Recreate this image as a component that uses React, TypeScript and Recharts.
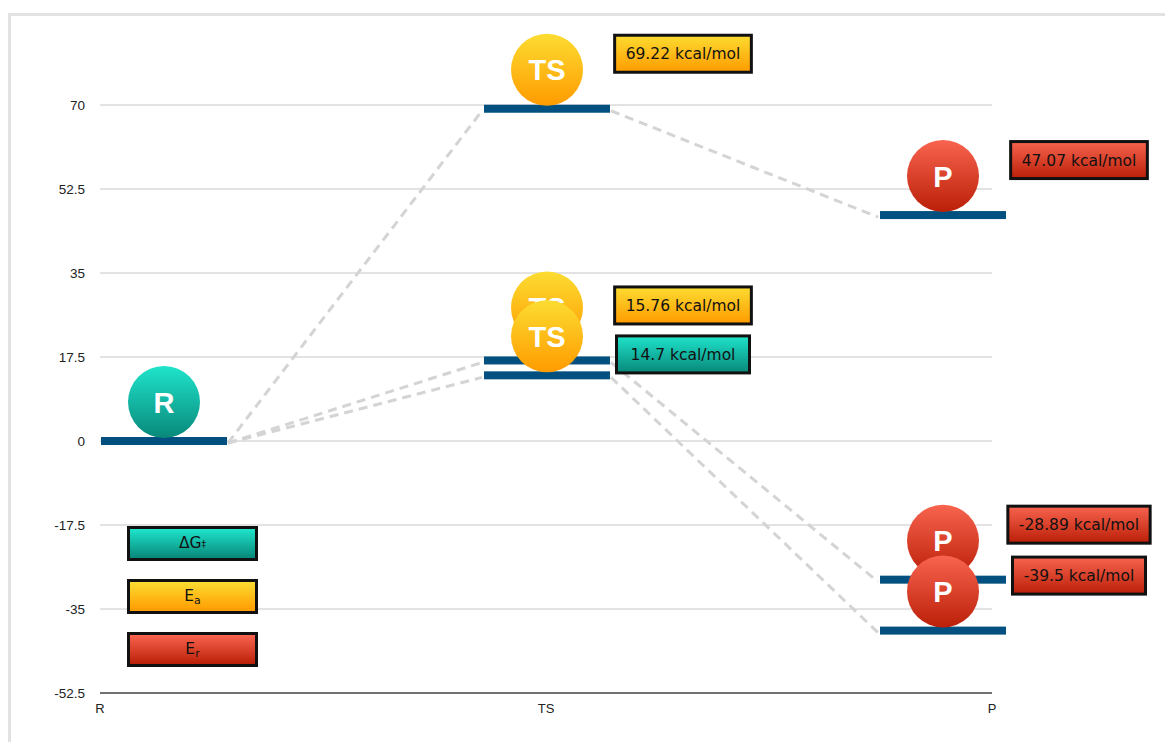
import React from 'react';
import {
  ComposedChart,
  Scatter,
  XAxis,
  YAxis,
  CartesianGrid,
  ReferenceLine,
  Legend,
} from 'recharts';

if (typeof document !== 'undefined') {
  document.documentElement.style.overflow = 'hidden';
  document.body.style.overflow = 'hidden';
}

// ---------------- data ----------------
const stages = ['R', 'TS', 'P'];
const yTicks = [-52.5, -35, -17.5, 0, 17.5, 35, 52.5, 70];
const reactantEnergy = 0;
const tsEnergies = [69.22, 15.76, 14.7];
const productEnergies = [47.07, -28.89, -39.5];
const tsLabelKinds = ['Ea', 'Ea', 'dG'];
const productLabelKinds = ['Er', 'Er', 'Er'];
const stageKinds = ['dG', 'Ea', 'Er'];
const legendKeys = ['dG', 'Ea', 'Er'];
const unit = 'kcal/mol';

// ---------------- styles ----------------
const palette: Record<string, [string, string]> = {
  dG: ['#1fe4cb', '#08887a'],
  Ea: ['#fcdc31', '#ff9b00'],
  Er: ['#f8644f', '#bb1f08'],
};
const BAR_COLOR = '#02507f';
const BAR_W = 126;
const BAR_H = 8;
const BAR_LEFT = [1, -62, -112];
const CIRCLE_R = 36;
const CIRCLE_LIFT = 39;
const LABEL_LIFT = 55;
const LABEL_SHIFT = 136;
const BAR_GAP = 3.1;
const CIRCLE_GAP = 6;
const LABEL_GAP = 10.2;
const BOX_FONT = '"DejaVu Sans", Verdana, sans-serif';
const AXIS_FONT = '"Liberation Sans", Arial, sans-serif';
const BOX_FONT_SIZE = 15.5;

const charW: Record<string, number> = {
  '.': 0.318, ' ': 0.318, '-': 0.361, k: 0.579, c: 0.55, a: 0.613, l: 0.278,
  '/': 0.337, m: 0.974, o: 0.612,
};
const textWidth = (s: string, size: number) =>
  s.split('').reduce((w, ch) => w + (charW[ch] ?? 0.636), 0) * size;

// ---------------- layout ----------------
type Item = { id: string; col: number; value: number; kind: string | null; path: number };
const items: Item[] = [
  { id: 'r', col: 0, value: reactantEnergy, kind: null, path: -1 },
  ...tsEnergies.map((v, i) => ({ id: 'ts' + i, col: 1, value: v, kind: tsLabelKinds[i], path: i })),
  ...productEnergies.map((v, i) => ({ id: 'p' + i, col: 2, value: v, kind: productLabelKinds[i], path: i })),
];

type Placed = Item & { level: number; circle: number; label: number };
const placed: Placed[] = [];
[0, 1, 2].forEach((col) => {
  const s = items.filter((it) => it.col === col).sort((a, b) => b.value - a.value);
  const lv = s.map((it) => it.value);
  for (let k = 0; k < lv.length - 1; k++) {
    if (lv[k] - lv[k + 1] < BAR_GAP) {
      const mid = (lv[k] + lv[k + 1]) / 2;
      lv[k] = mid + BAR_GAP / 2;
      lv[k + 1] = mid - BAR_GAP / 2;
    }
  }
  const ca = [...lv];
  for (let k = lv.length - 2; k >= 0; k--) ca[k] = Math.max(lv[k], ca[k + 1] + CIRCLE_GAP);
  const la = [...lv];
  for (let k = 1; k < lv.length; k++) la[k] = Math.min(lv[k], la[k - 1] - LABEL_GAP);
  s.forEach((it, k) => placed.push({ ...it, level: lv[k], circle: ca[k], label: la[k] }));
});

const barPoints = placed.map((p) => ({ x: p.col, y: p.level, id: p.id }));
const circlePoints = placed
  .map((p) => ({ x: p.col, y: p.circle, id: p.id }))
  .sort((a, b) => b.y - a.y);
const labelPoints = placed
  .filter((p) => p.kind)
  .map((p) => ({ x: p.col, y: p.label, id: p.id, kind: p.kind as string, text: `${p.value} ${unit}` }));

const levelOf = (id: string) => placed.find((p) => p.id === id)!.level;
const connectors = tsEnergies.flatMap((_, i) => [
  { from: 0, to: 1, a: levelOf('r'), b: levelOf('ts' + i) },
  { from: 1, to: 2, a: levelOf('ts' + i), b: levelOf('p' + i) },
]);

// ---------------- shapes ----------------
const BarShape = (props: any) => {
  const { cx, cy, payload } = props;
  return <rect x={cx + BAR_LEFT[payload.x]} y={cy - BAR_H / 2} width={BAR_W} height={BAR_H} fill={BAR_COLOR} />;
};

const CircleShape = (props: any) => {
  const { cx, cy, payload } = props;
  const kind = stageKinds[payload.x];
  const [c1, c2] = palette[kind];
  const gid = `cg-${payload.id}`;
  const x = cx + BAR_LEFT[payload.x] + BAR_W / 2;
  const y = cy - CIRCLE_LIFT;
  return (
    <g>
      <defs>
        <linearGradient id={gid} x1="0" y1="0" x2="0" y2="1">
          <stop offset="0%" stopColor={c1} />
          <stop offset="100%" stopColor={c2} />
        </linearGradient>
      </defs>
      <circle cx={x} cy={y} r={CIRCLE_R} fill={`url(#${gid})`} />
      <text
        x={x}
        y={y + 10.5}
        textAnchor="middle"
        fill="#fff"
        fontFamily={AXIS_FONT}
        fontWeight="bold"
        fontSize={29}
      >
        {stages[payload.x]}
      </text>
    </g>
  );
};

const LabelShape = (props: any) => {
  const { cx, cy, payload } = props;
  const [c1, c2] = palette[payload.kind];
  const gid = `lg-${payload.id}`;
  const w = Math.max(133, textWidth(payload.text, BOX_FONT_SIZE) + 22);
  const h = 37;
  const centerX = cx + BAR_LEFT[payload.x] + BAR_W / 2 + LABEL_SHIFT;
  const centerY = cy - LABEL_LIFT;
  return (
    <g>
      <defs>
        <linearGradient id={gid} x1="0" y1="0" x2="0" y2="1">
          <stop offset="0%" stopColor={c1} />
          <stop offset="100%" stopColor={c2} />
        </linearGradient>
      </defs>
      <rect
        x={centerX - w / 2}
        y={centerY - h / 2}
        width={w}
        height={h}
        fill={`url(#${gid})`}
        stroke="#111"
        strokeWidth={3}
      />
      <text
        x={centerX}
        y={centerY + 5.5}
        textAnchor="middle"
        fill="#111"
        fontFamily={BOX_FONT}
        fontSize={BOX_FONT_SIZE}
      >
        {payload.text}
      </text>
    </g>
  );
};

const makeConnector = (from: number, to: number) => (props: any) => {
  const { x1, y1, x2, y2 } = props;
  return (
    <line
      x1={x1 + BAR_LEFT[from] + BAR_W + 1}
      y1={y1 + 2}
      x2={x2 + BAR_LEFT[to] - 2}
      y2={y2 + 2}
      stroke="#d4d4d4"
      strokeWidth={3}
      strokeDasharray="9 6"
    />
  );
};

const legendLabel = (key: string) => {
  if (key === 'dG')
    return (
      <span>
        ΔG<sup style={{ fontSize: 9, verticalAlign: 'top', position: 'relative', top: 1 }}>‡</sup>
      </span>
    );
  if (key === 'Ea')
    return (
      <span>
        E<sub style={{ fontSize: 11, verticalAlign: 'baseline', position: 'relative', top: 3 }}>a</sub>
      </span>
    );
  return (
    <span>
      E<sub style={{ fontSize: 11, verticalAlign: 'baseline', position: 'relative', top: 3 }}>r</sub>
    </span>
  );
};

const LegendBoxes = () => (
  <div style={{ display: 'flex', flexDirection: 'column', gap: 18 }}>
    {legendKeys.map((k) => (
      <div
        key={k}
        style={{
          width: 131,
          height: 35,
          boxSizing: 'border-box',
          border: '3px solid #111',
          background: `linear-gradient(to bottom, ${palette[k][0]}, ${palette[k][1]})`,
          display: 'flex',
          alignItems: 'center',
          justifyContent: 'center',
          fontFamily: BOX_FONT,
          fontSize: 15.5,
          color: '#111',
          lineHeight: '15px',
        }}
      >
        {legendLabel(k)}
      </div>
    ))}
  </div>
);

export default function App() {
  return (
    <div style={{ position: 'absolute', left: 0, top: 0, width: 1165, height: 742 }}>
      <div
        style={{
          position: 'absolute',
          left: 8,
          top: 13,
          width: 1170,
          height: 745,
          boxSizing: 'border-box',
          border: '3px solid #e2e2e2',
        }}
      />
      <div style={{ position: 'absolute', left: 0, top: 0 }}>
        <ComposedChart width={1165} height={742} margin={{ top: 105, right: 173, bottom: 19, left: 40 }}>
          <CartesianGrid vertical={false} stroke="#c6c6c6" />
          <XAxis
            type="number"
            dataKey="x"
            domain={[0, 2]}
            ticks={[0, 1, 2]}
            interval={0}
            tickFormatter={(v: number) => stages[v]}
            axisLine={{ stroke: '#000', strokeWidth: 1 }}
            tickLine={false}
            tickMargin={5}
            height={30}
            tick={{ fill: '#222', fontSize: 13, fontFamily: AXIS_FONT }}
          />
          <YAxis
            type="number"
            dataKey="y"
            domain={[-52.5, 70]}
            ticks={yTicks}
            interval={0}
            axisLine={false}
            tickLine={false}
            tickMargin={9}
            width={60}
            tick={{ fill: '#222', fontSize: 13.5, fontFamily: AXIS_FONT }}
          />
          {connectors.map((c, i) => (
            <ReferenceLine
              key={'c' + i}
              segment={[
                { x: c.from, y: c.a },
                { x: c.to, y: c.b },
              ]}
              shape={makeConnector(c.from, c.to)}
              ifOverflow="visible"
            />
          ))}
          <Scatter data={barPoints} dataKey="y" shape={BarShape} isAnimationActive={false} />
          <Scatter data={circlePoints} dataKey="y" shape={CircleShape} isAnimationActive={false} />
          <Scatter data={labelPoints} dataKey="y" shape={LabelShape} isAnimationActive={false} />
          <Legend
            layout="vertical"
            align="center"
            verticalAlign="middle"
            wrapperStyle={{ left: 127, top: 526, width: 131 }}
            content={() => <LegendBoxes />}
          />
        </ComposedChart>
      </div>
    </div>
  );
}
